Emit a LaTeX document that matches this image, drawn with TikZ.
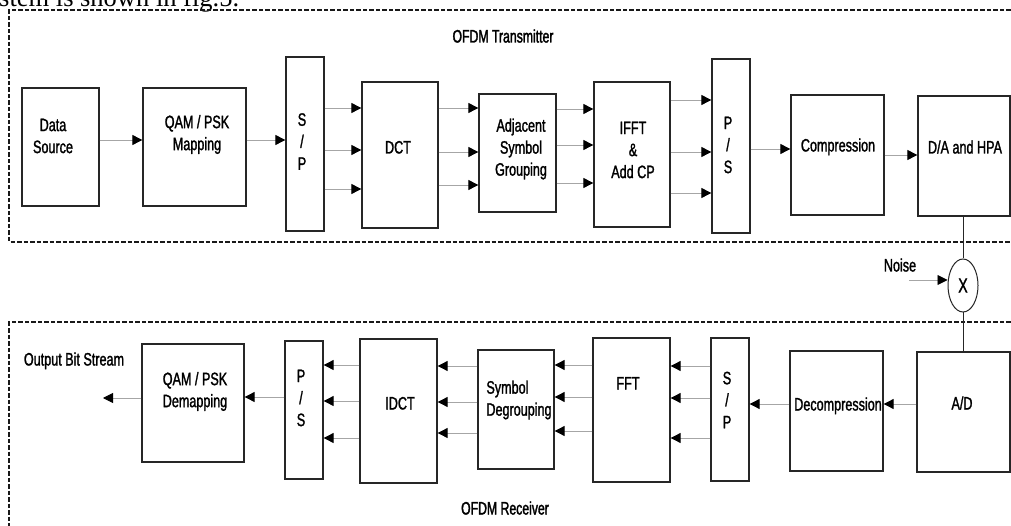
\documentclass[tikz,border=0pt]{standalone}
\usepackage{fontspec}
\setmainfont{Liberation Sans}[FakeStretch=0.7,FakeBold=1.4]
\newfontfamily\titlef{Liberation Sans}[FakeStretch=0.68,FakeBold=1.8]
\newfontfamily\timesf{Liberation Serif}
\usetikzlibrary{arrows.meta,shapes.geometric}
\begin{document}
\begin{tikzpicture}[x=1pt,y=-1pt,
  box/.style={draw=black!85,line width=1.3pt,inner sep=0pt,minimum width=#1},
  txt/.style={font=\fontsize{18}{22}\selectfont,align=center,inner sep=0pt},
  ttl/.style={font=\titlef\fontsize{18}{22}\selectfont,inner sep=0pt},
  arr/.style={draw=black!35,line width=0.9pt,-{Triangle[length=10pt,width=10pt,color=black]}},
  wire/.style={draw=black!85,line width=1pt},
  frame/.style={draw=black!90,line width=1.7pt,dash pattern=on 4.5pt off 2pt}]
\clip (0,0) rectangle (1011,526);
\fill[white] (0,0) rectangle (1011,526);
% page caption fragment
\node[anchor=base west,inner sep=0pt,font=\timesf\fontsize{26.5}{30}\selectfont] (cap) at (-1,7) {stem is shown in fig.5.};
% dashed frames
\draw[frame] (1030,10) -- (9,10) -- (9,242) -- (1030,242);
\draw[frame] (1030,322) -- (9,322) -- (9,560);
% ===== transmitter =====
\node[box=77pt,minimum height=118pt] (ds) at (60.5,147) {};
\node[box=103pt,minimum height=118pt] (qam) at (194.5,147) {};
\node[box=38pt,minimum height=174pt] (sp1) at (305,144) {};
\node[box=76pt,minimum height=146pt] (dct) at (400,155) {};
\node[box=77pt,minimum height=118pt] (adj) at (517.5,153) {};
\node[box=76pt,minimum height=145pt] (ifft) at (632,154.5) {};
\node[box=38pt,minimum height=174pt] (ps1) at (731,146) {};
\node[box=93pt,minimum height=120pt] (comp) at (837.5,155) {};
\node[box=92pt,minimum height=120pt] (da) at (964,156) {};
\node[txt] (tds) at (53,136) {Data\\Source};
\node[txt] (tqam) at (197,134.5) {QAM / PSK\\Mapping};
\node[txt] (tsp1) at (302,141.5) {S\\/\\P};
\node[txt,anchor=base] (tdct) at (398,153.5) {DCT};
\node[txt] (tadj) at (521,149) {Adjacent\\Symbol\\Grouping};
\node[txt] (tifft) at (633,150) {IFFT\\\&\\Add CP};
\node[txt] (tps1) at (728,145) {P\\/\\S};
\node[txt,anchor=base] (tcomp) at (838,151.5) {Compression};
\node[txt,anchor=base] (tda) at (965,153.5) {D/A and HPA};
\node[ttl,anchor=base] (ttx) at (503,42.5) {OFDM Transmitter};
\draw[arr] (ds.east |- 0,140) -- (qam.west |- 0,140);
\draw[arr] (qam.east |- 0,140) -- (sp1.west |- 0,140);
\foreach \y in {108,150,189} \draw[arr] (sp1.east |- 0,\y) -- (dct.west |- 0,\y);
\foreach \y in {108,152,185} \draw[arr] (dct.east |- 0,\y) -- (adj.west |- 0,\y);
\foreach \y in {109,145,183} \draw[arr] (adj.east |- 0,\y) -- (ifft.west |- 0,\y);
\foreach \y in {100,152,193} \draw[arr] (ifft.east |- 0,\y) -- (ps1.west |- 0,\y);
\draw[arr] (ps1.east |- 0,149) -- (comp.west |- 0,149);
\draw[arr] (comp.east |- 0,155) -- (da.west |- 0,155);
% ===== channel =====
\node[draw=black!85,line width=1pt,ellipse,minimum width=30pt,minimum height=53pt,inner sep=0pt,font=\fontsize{20}{20}\selectfont] (mix) at (963,285.5) {X};
\node[txt,anchor=base] (tnoise) at (900,271.5) {Noise};
\coordinate (nz) at (909,280);
\draw[arr] (nz) -- (mix.west |- nz);
\draw[wire] (mix.north |- da.south) -- (mix.north);
% ===== receiver =====
\node[box=93pt,minimum height=120pt] (ad) at (963.5,412) {};
\node[box=93pt,minimum height=120pt] (dcp) at (836.5,411) {};
\node[box=38pt,minimum height=143pt] (sp2) at (730,409.5) {};
\node[box=77pt,minimum height=144pt] (fft) at (631.5,410) {};
\node[box=76pt,minimum height=119pt] (sdg) at (516,409.5) {};
\node[box=77pt,minimum height=144pt] (idct) at (398.5,411) {};
\node[box=38pt,minimum height=138pt] (ps2) at (304,410) {};
\node[box=102pt,minimum height=118pt] (dem) at (193,403) {};
\draw[wire] (mix.south) -- (mix.south |- ad.north);
\node[txt,anchor=base] (tad) at (962,409.5) {A/D};
\node[txt,anchor=base] (tdcp) at (838,410.5) {Decompression};
\node[txt] (tsp2) at (727,400) {S\\/\\P};
\node[txt,anchor=base] (tfft) at (628,389.5) {FFT};
\node[txt,align=left] (tsdg) at (519,400) {Symbol\\Degrouping};
\node[txt,anchor=base] (tidct) at (400,409.5) {IDCT};
\node[txt] (tps2) at (301,398) {P\\/\\S};
\node[txt] (tdem) at (195,391.5) {QAM / PSK\\Demapping};
\node[txt,anchor=base] (tout) at (74,365.5) {Output Bit Stream};
\node[ttl,anchor=base] (trx) at (505,514.5) {OFDM Receiver};
\draw[arr] (ad.west |- 0,404) -- (dcp.east |- 0,404);
\draw[arr] (dcp.west |- 0,404) -- (sp2.east |- 0,404);
\foreach \y in {366,398,438} \draw[arr] (sp2.west |- 0,\y) -- (fft.east |- 0,\y);
\foreach \y in {365,397,431} \draw[arr] (fft.west |- 0,\y) -- (sdg.east |- 0,\y);
\foreach \y in {366,402,433} \draw[arr] (sdg.west |- 0,\y) -- (idct.east |- 0,\y);
\foreach \y in {365,401,438} \draw[arr] (idct.west |- 0,\y) -- (ps2.east |- 0,\y);
\draw[arr] (ps2.west |- 0,397) -- (dem.east |- 0,397);
\coordinate (outend) at (103,398);
\draw[arr] (dem.west |- outend) -- (outend);
\end{tikzpicture}
\end{document}
